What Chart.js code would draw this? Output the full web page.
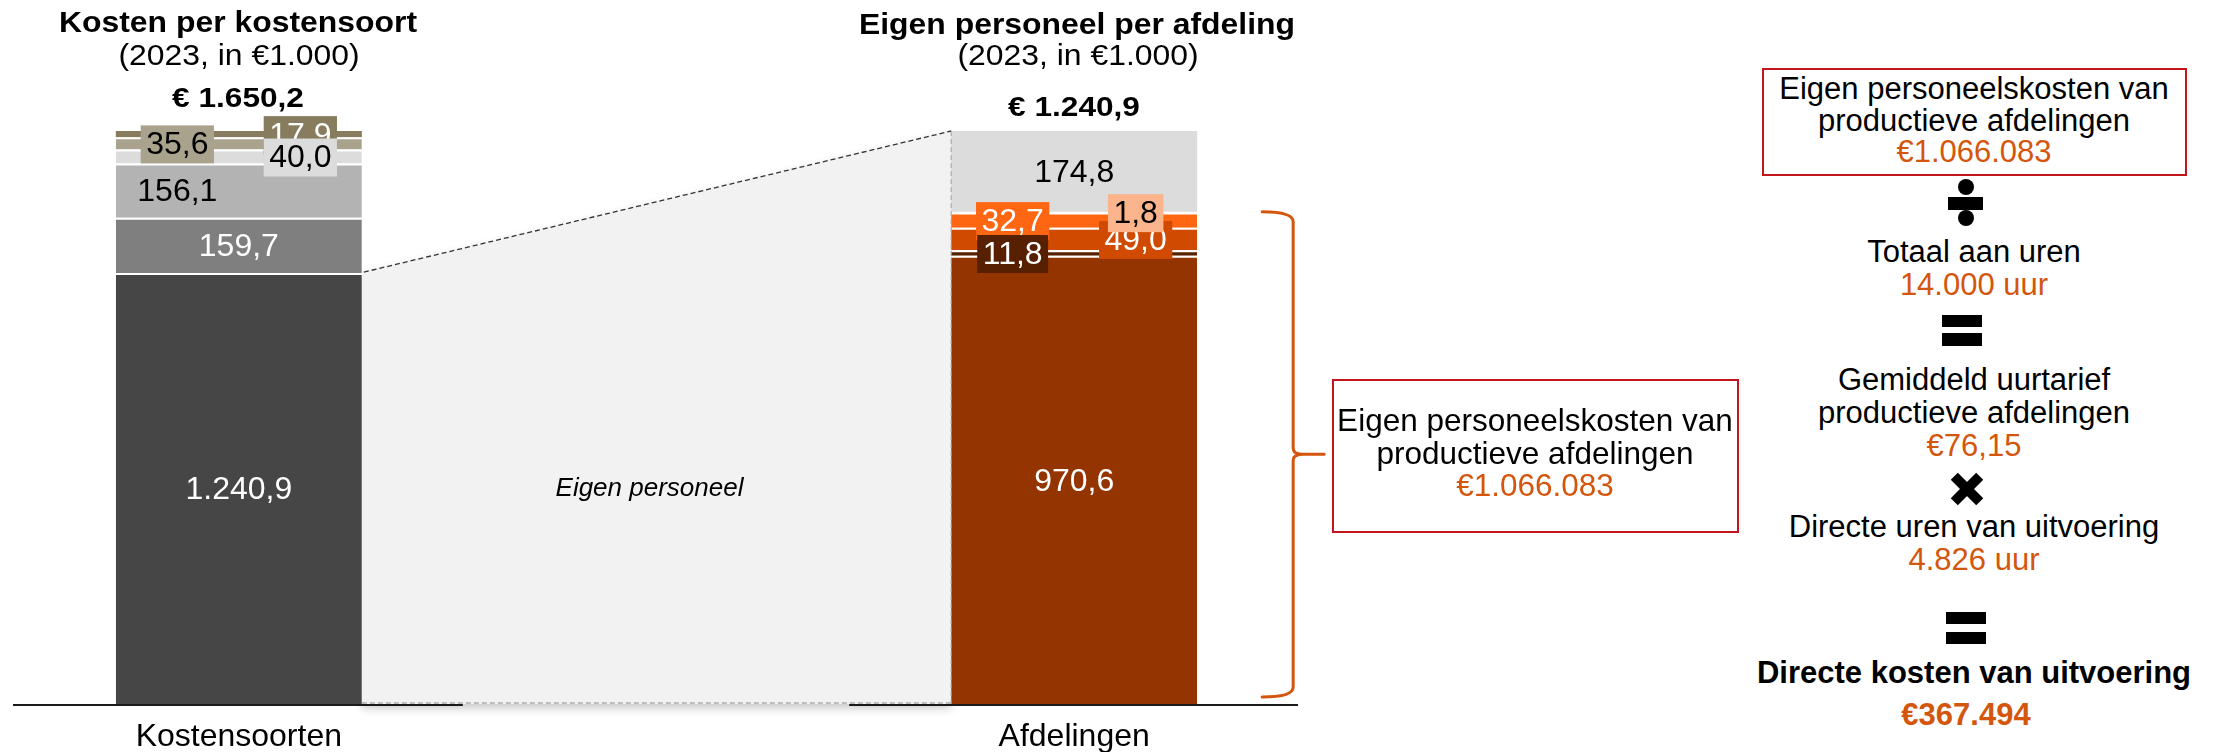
<!DOCTYPE html>
<html><head><meta charset="utf-8">
<script src="https://cdn.jsdelivr.net/npm/chart.js@4.4.1/dist/chart.umd.min.js"></script>
<style>
html,body{margin:0;padding:0;background:#fff;}
body{width:2232px;height:752px;position:relative;overflow:hidden;font-family:"Liberation Sans",Arial,sans-serif;color:#000;}
#wrap{position:absolute;left:0;top:0;width:1340px;height:752px;}
.t{position:absolute;white-space:nowrap;line-height:1;transform:translate(-50%,-50%);}
.h{transform:translate(-50%,-50%) scaleX(1.1);font-size:29px;}
.tot{transform:translate(-50%,-50%) scaleX(1.13);font-size:28px;font-weight:bold;}
.b{font-weight:bold;}
.o{color:#D4560C;}
.p{font-size:31px;}
.m{font-size:31.5px;}
.box{position:absolute;border:2px solid #C3161C;box-sizing:border-box;}
.k{position:absolute;background:#000;}
</style></head>
<body>
<div id="wrap"><canvas id="c"></canvas></div>

<div class="t h b" style="left:238px;top:22px">Kosten per kostensoort</div>
<div class="t h" style="left:239px;top:55px">(2023, in €1.000)</div>
<div class="t tot" id="tot0" style="left:238px;top:98px"></div>
<div class="t h b" style="left:1077px;top:24px">Eigen personeel per afdeling</div>
<div class="t h" style="left:1078px;top:55px">(2023, in €1.000)</div>
<div class="t tot" id="tot1" style="left:1074px;top:107px"></div>

<div class="box" style="left:1332px;top:379px;width:407px;height:154px"></div>
<div class="t m" style="left:1535px;top:421px">Eigen personeelskosten van</div>
<div class="t m" style="left:1535px;top:454px">productieve afdelingen</div>
<div class="t m o" style="left:1535px;top:486px">€1.066.083</div>

<div class="box" style="left:1762px;top:68px;width:425px;height:108px"></div>
<div class="t p" style="left:1974px;top:88px">Eigen personeelskosten van</div>
<div class="t p" style="left:1974px;top:120px">productieve afdelingen</div>
<div class="t p o" style="left:1974px;top:151px">€1.066.083</div>

<div class="k" style="left:1958px;top:179px;width:16px;height:16px;border-radius:50%"></div>
<div class="k" style="left:1948px;top:197px;width:35px;height:13px"></div>
<div class="k" style="left:1958px;top:210px;width:16px;height:16px;border-radius:50%"></div>

<div class="t p" style="left:1974px;top:251px">Totaal aan uren</div>
<div class="t p o" style="left:1974px;top:284px">14.000 uur</div>

<div class="k" style="left:1942px;top:315px;width:40px;height:12px"></div>
<div class="k" style="left:1942px;top:333px;width:40px;height:13px"></div>

<div class="t p" style="left:1974px;top:379px">Gemiddeld uurtarief</div>
<div class="t p" style="left:1974px;top:412px">productieve afdelingen</div>
<div class="t p o" style="left:1974px;top:445px">€76,15</div>

<div class="k" style="left:1949px;top:484px;width:36px;height:10px;transform:rotate(45deg)"></div>
<div class="k" style="left:1949px;top:484px;width:36px;height:10px;transform:rotate(-45deg)"></div>

<div class="t p" style="left:1974px;top:526px">Directe uren van uitvoering</div>
<div class="t p o" style="left:1974px;top:559px">4.826 uur</div>

<div class="k" style="left:1946px;top:612px;width:40px;height:12px"></div>
<div class="k" style="left:1946px;top:632px;width:40px;height:12px"></div>

<div class="t p b" style="left:1974px;top:672px">Directe kosten van uitvoering</div>
<div class="t p b o" style="left:1966px;top:714px">€367.494</div>

<script>
// ---- data ----
const categories = ['Kostensoorten', '', 'Afdelingen'];
const kostenSeries = ['Eigen personeel', 'Kostensoort 2', 'Kostensoort 3', 'Kostensoort 4', 'Kostensoort 5', 'Kostensoort 6'];
const kostenValues = [1240.9, 159.7, 156.1, 40.0, 35.6, 17.9];
const afdelingSeries = ['Productieve afdeling 1', 'Productieve afdeling 2', 'Productieve afdeling 3', 'Productieve afdeling 4', 'Productieve afdeling 5', 'Overige afdelingen'];
const afdelingValues = [970.6, 11.8, 49.0, 32.7, 1.8, 174.8];
const totals = [1650.2, 1240.9];
const productiveCount = 5;

// ---- styles ----
const kostenColors = ['#464646', '#7F7F7F', '#B3B3B3', '#DCDCDC', '#A9A28D', '#877D5E'];
const kostenText = ['#fff', '#fff', '#000', '#000', '#000', '#fff'];
const kostenPos = ['c', 'c', 'l', 'r', 'l', 'r'];
const afdelingColors = ['#943400', '#572000', '#D04A02', '#FF6611', '#FCB48C', '#DCDCDC'];
const afdelingText = ['#fff', '#fff', '#fff', '#fff', '#000', '#000'];
const afdelingPos = ['c', 'l', 'r', 'l', 'r', 'c'];
const drawOrder = [0, 1, 2, 4, 5, 3, 6, 11, 9, 7, 8, 10];
const FONT = '"Liberation Sans", Arial, sans-serif';
const ORANGE = '#D4560C';

function fmt(v) {
  const parts = v.toFixed(1).split('.');
  return parts[0].replace(/\B(?=(\d{3})+(?!\d))/g, '.') + ',' + parts[1];
}
const sum = a => a.reduce((s, v) => s + v, 0);

document.getElementById('tot0').textContent = '€ ' + fmt(totals[0]);
document.getElementById('tot1').textContent = '€ ' + fmt(totals[1]);

const datasets = [];
kostenValues.forEach((v, i) => datasets.push({
  label: kostenSeries[i], data: [v, null, null], yAxisID: 'y',
  backgroundColor: kostenColors[i], borderColor: '#fff',
  borderWidth: i === kostenValues.length - 1 ? 0 : {top: 2, left: 0, right: 0, bottom: 0},
  borderSkipped: 'start', stack: 's',
  _txt: kostenText[i], _pos: kostenPos[i], _val: v
}));
afdelingValues.forEach((v, i) => datasets.push({
  label: afdelingSeries[i], data: [null, null, v], yAxisID: 'y2',
  backgroundColor: afdelingColors[i], borderColor: '#fff',
  borderWidth: i === afdelingValues.length - 1 ? 0 : {top: 2, left: 0, right: 0, bottom: 0},
  borderSkipped: 'start', stack: 's',
  _txt: afdelingText[i], _pos: afdelingPos[i], _val: v
}));

function geom(chart) {
  const lm = chart.getDatasetMeta(0).data[0];
  const rm = chart.getDatasetMeta(kostenValues.length).data[2];
  const ys = chart.scales.y, y2 = chart.scales.y2;
  return {
    L: lm.x + lm.width / 2,
    R: rm.x - rm.width / 2,
    RR: rm.x + rm.width / 2,
    yTL: ys.getPixelForValue(kostenValues[0]),
    yTR: y2.getPixelForValue(sum(afdelingValues)),
    bot: ys.getPixelForValue(0)
  };
}

const overlay = {
  id: 'overlay',
  beforeDatasetsDraw(chart) {
    const ctx = chart.ctx, g = geom(chart);
    ctx.save();
    ctx.shadowColor = 'rgba(0,0,0,0.22)';
    ctx.shadowBlur = 10;
    ctx.shadowOffsetY = 4;
    ctx.fillStyle = '#F2F2F2';
    ctx.beginPath();
    ctx.moveTo(g.L, g.yTL); ctx.lineTo(g.R, g.yTR); ctx.lineTo(g.R, g.bot); ctx.lineTo(g.L, g.bot);
    ctx.closePath(); ctx.fill();
    ctx.restore();
  },
  afterDatasetsDraw(chart) {
    const ctx = chart.ctx, g = geom(chart), ca = chart.chartArea;
    ctx.save();
    // polygon outline
    ctx.setLineDash([5, 3]);
    ctx.lineWidth = 1.3; ctx.strokeStyle = '#333';
    ctx.beginPath(); ctx.moveTo(g.L + 2, g.yTL - 1); ctx.lineTo(g.R, g.yTR); ctx.stroke();
    ctx.lineWidth = 1; ctx.strokeStyle = '#A0A0A0';
    ctx.beginPath(); ctx.moveTo(g.R, g.yTR); ctx.lineTo(g.R, g.bot); ctx.stroke();
    ctx.strokeStyle = '#888';
    ctx.beginPath(); ctx.moveTo(g.L, g.bot - 1); ctx.lineTo(g.R, g.bot - 1); ctx.stroke();
    ctx.setLineDash([]);
    // polygon text
    ctx.fillStyle = '#000';
    ctx.font = 'italic 26px ' + FONT;
    ctx.textAlign = 'center'; ctx.textBaseline = 'middle';
    ctx.fillText(kostenSeries[0], (g.L + g.R) / 2 - 7, (g.yTL + g.bot) / 2);
    // axis line
    ctx.strokeStyle = '#1a1a1a'; ctx.lineWidth = 2;
    ctx.beginPath();
    ctx.moveTo(ca.left - 17, g.bot + 1); ctx.lineTo(g.L + 101, g.bot + 1);
    ctx.moveTo(g.R - 102, g.bot + 1); ctx.lineTo(ca.right + 15, g.bot + 1);
    ctx.stroke();
    // value labels
    ctx.font = '32px ' + FONT;
    drawOrder.forEach(di => {
      const ds = chart.data.datasets[di];
      const meta = chart.getDatasetMeta(di);
      const el = meta.data.find(e => e && !isNaN(e.y) && e.base !== undefined && Math.abs(e.base - e.y) > 0.01);
      if (!el) return;
      const cy = (el.y + el.base) / 2 + 1;
      let cx = el.x;
      if (ds._pos === 'l') cx -= el.width * 0.25;
      if (ds._pos === 'r') cx += el.width * 0.25;
      const txt = fmt(ds._val);
      const tw = ctx.measureText(txt).width;
      if (Math.abs(el.base - el.y) < 40) {
        ctx.fillStyle = ds.backgroundColor;
        ctx.fillRect(cx - tw / 2 - 5.5, cy - 19, tw + 11, 38);
      }
      ctx.fillStyle = ds._txt;
      ctx.fillText(txt, cx, cy + 1);
    });
    // bracket
    const y2 = chart.scales.y2;
    const top = y2.getPixelForValue(sum(afdelingValues.slice(0, productiveCount)));
    const bot = g.bot - 7;
    const mid = (top + bot) / 2;
    const x0 = g.RR + 65, bx = g.RR + 96, tip = g.RR + 127;
    ctx.strokeStyle = ORANGE; ctx.lineWidth = 3; ctx.lineCap = 'round';
    ctx.beginPath();
    ctx.moveTo(x0, top); ctx.quadraticCurveTo(bx, top, bx, top + 10);
    ctx.lineTo(bx, mid - 6); ctx.quadraticCurveTo(bx, mid, bx + 10, mid); ctx.lineTo(tip, mid);
    ctx.moveTo(bx + 10, mid); ctx.quadraticCurveTo(bx, mid, bx, mid + 6);
    ctx.lineTo(bx, bot - 10); ctx.quadraticCurveTo(bx, bot, x0, bot);
    ctx.stroke();
    ctx.restore();
  }
};

Chart.defaults.font.family = FONT;
new Chart(document.getElementById('c'), {
  type: 'bar',
  data: { labels: categories, datasets },
  options: {
    responsive: true, maintainAspectRatio: false, devicePixelRatio: 1, animation: false,
    layout: { padding: { left: 30, right: 57, top: 131, bottom: 0 } },
    datasets: { bar: { categoryPercentage: 1, barPercentage: 0.589 } },
    plugins: { legend: { display: false }, tooltip: { enabled: false } },
    scales: {
      x: {
        stacked: true,
        grid: { display: false, drawTicks: false },
        border: { display: false },
        ticks: { color: '#000', font: { size: 32, lineHeight: 1.2 }, padding: 14, maxRotation: 0, autoSkip: false },
        afterFit: s => { s.height = 48; }
      },
      y: { stacked: true, display: false, min: 0, max: sum(kostenValues) },
      y2: { stacked: true, display: false, min: 0, max: sum(afdelingValues) }
    }
  },
  plugins: [overlay]
});
</script>
</body></html>
